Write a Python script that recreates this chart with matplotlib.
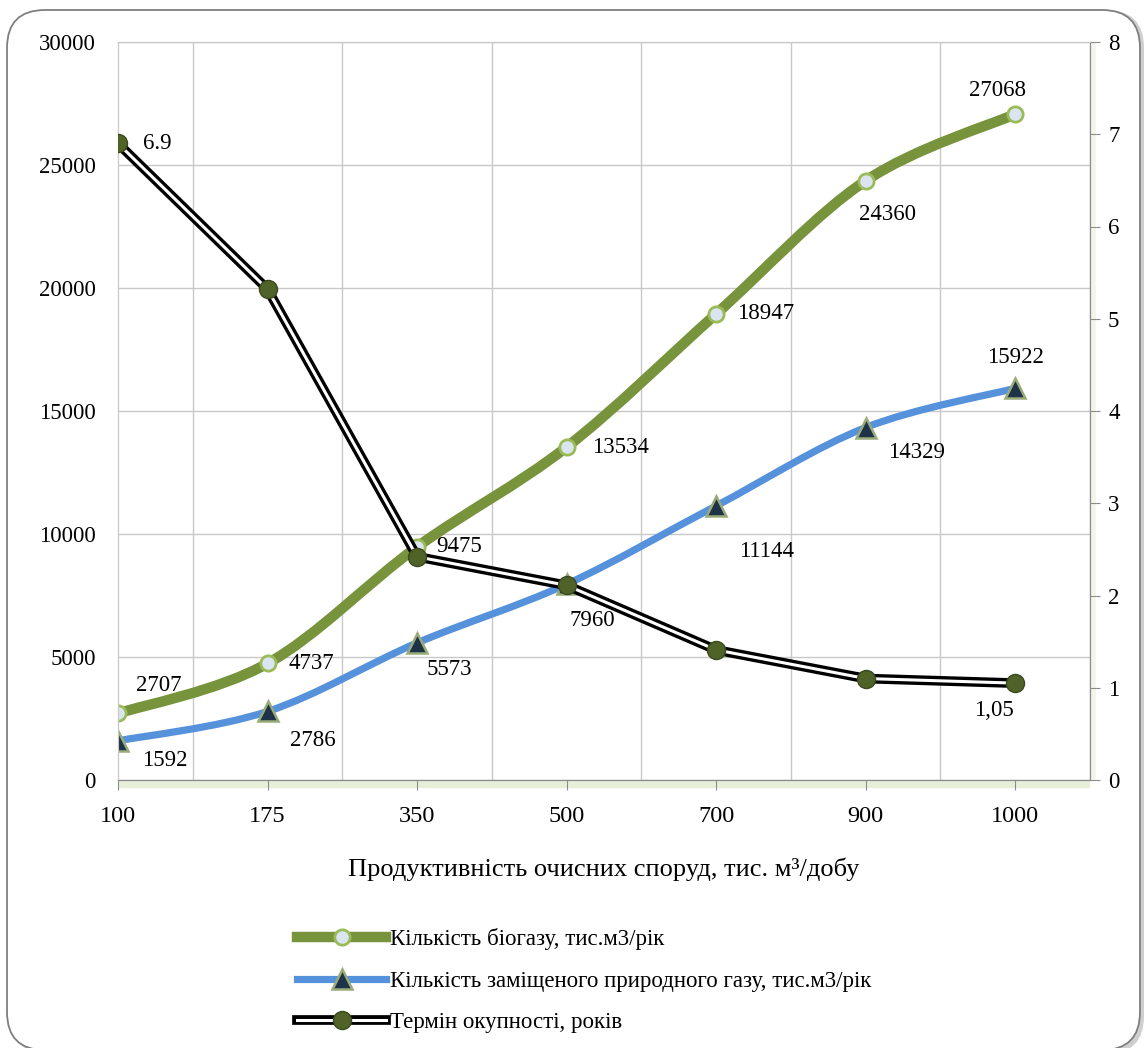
import numpy as np
import matplotlib
matplotlib.use("Agg")
import matplotlib.pyplot as plt
from matplotlib.path import Path
from matplotlib.patches import PathPatch, FancyBboxPatch
from matplotlib.lines import Line2D
from matplotlib.transforms import IdentityTransform

plt.rcParams['font.family'] = ['Liberation Serif', 'DejaVu Serif']

capacity = ['100', '175', '350', '500', '700', '900', '1000']
biogas = [2707, 4737, 9475, 13534, 18947, 24360, 27068]
natural_gas = [1592, 2786, 5573, 7960, 11144, 14329, 15922]
payback = [6.9, 5.32, 2.42, 2.11, 1.41, 1.1, 1.05]

biogas_name = 'Кількість біогазу, тис.м3/рік'
gas_name = 'Кількість заміщеного природного газу, тис.м3/рік'
payback_name = 'Термін окупності, років'
xlabel = 'Продуктивність очисних споруд, тис. м³/добу'

# text labels: (offset in points, ha)
biogas_lbl = [((13, 20), 'left'), ((15, 0), 'left'), ((14, 0), 'left'),
              ((18, 0), 'left'), ((15, 0), 'left'), ((-5, -24), 'left'),
              ((-33, 17), 'left')]
gas_lbl = [((17, -14), 'left'), ((16, -21), 'left'), ((7, -19), 'left'),
           ((2, -26), 'left'), ((36, -33), 'center'), ((16, -18), 'left'),
           ((0, 22), 'center')]
payback_lbl = {0: ((18, 0), 'left'), 6: ((-1, -20), 'right')}

GREEN = '#77933c'
BLUE = '#5592db'
DARK = '#4f6228'
GRID = '#c8c8c8'
FS = 16.5


def smooth_path(xs, ys):
    # Excel-like smoothed line: cubic Bezier segments with 1/6 tangents
    pts = np.column_stack([xs, ys]).astype(float)
    ext = np.vstack([pts[0], pts, pts[-1]])
    verts = [pts[0]]
    codes = [Path.MOVETO]
    for i in range(len(pts) - 1):
        p0, p1, p2, p3 = ext[i], ext[i + 1], ext[i + 2], ext[i + 3]
        verts += [p1 + (p2 - p0) / 6, p2 - (p3 - p1) / 6, p2]
        codes += [Path.CURVE4] * 3
    return Path(verts, codes)


fig = plt.figure(figsize=(11.47, 10.48), dpi=100)

# rounded chart frame with a soft shadow
shadow = FancyBboxPatch((11, -6), 1133, 1044, boxstyle='round,pad=0,rounding_size=38',
                        transform=IdentityTransform(), fc='#cfcfcf', ec='none', zorder=-3)
frame = FancyBboxPatch((7, -2), 1133, 1040, boxstyle='round,pad=0,rounding_size=38',
                       transform=IdentityTransform(), fc='white', ec='#7f7f7f', lw=1.3, zorder=-2)
fig.patches.extend([shadow, frame])

ax = fig.add_axes([118 / 1147, 1 - 780 / 1048, 972 / 1147, 738 / 1048])
ax2 = ax.twinx()
ax.set_zorder(1)
ax2.set_zorder(2)
ax.patch.set_facecolor('white')

x = np.arange(len(capacity))
ax.set_xlim(0, 6.5)
ax.set_ylim(0, 30000)
ax2.set_ylim(0, 8)

ax.set_xticks(x)
ax.set_xticklabels(capacity)
ax.set_xticks(np.arange(0, 6.51, 0.5), minor=True)
ax.set_yticks(np.arange(0, 30001, 5000))
ax.tick_params(axis='y', length=0, labelsize=FS, pad=16)
ax.tick_params(axis='x', which='major', length=7, color='#8c8c8c', labelsize=FS + 1, pad=12)
ax.tick_params(axis='x', which='minor', length=0)
ax.grid(True, which='minor', axis='x', color=GRID, lw=1)
ax.grid(True, which='major', axis='y', color=GRID, lw=1)
ax.set_axisbelow(True)

ax2.set_yticks(np.arange(0, 9))
ax2.tick_params(axis='y', length=7, color='#8c8c8c', labelsize=FS, pad=6)

for a in (ax, ax2):
    a.spines['top'].set_color(GRID)
    a.spines['left'].set_color(GRID)
    a.spines['bottom'].set_color('#8c8c8c')
    a.spines['right'].set_color('#8c8c8c')

# light green glow along the bottom and right axes
ax.plot([0, 1.0], [-0.006, -0.006], transform=ax.transAxes, color='#e8efd9', lw=6,
        clip_on=False, zorder=0, solid_capstyle='butt')
ax.plot([1.003, 1.003], [0, 1.0], transform=ax.transAxes, color='#f2f6ea', lw=4,
        clip_on=False, zorder=0, solid_capstyle='butt')

ax.set_xlabel(xlabel, fontsize=19, labelpad=22)

# biogas and substituted gas series on the left axis
ax.add_patch(PathPatch(smooth_path(x, biogas), fc='none', ec=GREEN, lw=7.5,
                       capstyle='round', zorder=3))
ax.plot(x, biogas, ls='none', marker='o', ms=11, mfc='#dbe5f1', mec='#9bbb59',
        mew=2, zorder=4)
ax.add_patch(PathPatch(smooth_path(x, natural_gas), fc='none', ec=BLUE, lw=5.2,
                       capstyle='round', zorder=3))
ax.plot(x, natural_gas, ls='none', marker='^', ms=14, mfc='#1f3348', mec='#9aab7a',
        mew=1.8, zorder=4)

# payback period on the right axis, drawn as a double line
ax2.plot(x, payback, color='black', lw=7, solid_joinstyle='miter', zorder=3)
ax2.plot(x, payback, color='white', lw=2.2, zorder=4)
ax2.plot(x, payback, ls='none', marker='o', ms=13, mfc=DARK, mec='#3b4a1e', mew=1,
         zorder=5)

for i, v in enumerate(biogas):
    off, ha = biogas_lbl[i]
    ax2.annotate(str(v), (x[i], v * 8 / 30000), xytext=off, textcoords='offset points',
                 ha=ha, va='center', fontsize=FS, zorder=6)
for i, v in enumerate(natural_gas):
    off, ha = gas_lbl[i]
    ax2.annotate(str(v), (x[i], v * 8 / 30000), xytext=off, textcoords='offset points',
                 ha=ha, va='center', fontsize=FS, zorder=6)
for i, (off, ha) in payback_lbl.items():
    txt = '6.9' if i == 0 else f'{payback[i]:.2f}'.replace('.', ',')
    ax2.annotate(txt, (x[i], payback[i]), xytext=off, textcoords='offset points',
                 ha=ha, va='center', fontsize=FS, zorder=6)

handles = [
    Line2D([], [], color=GREEN, lw=7.5, marker='o', ms=11, mfc='#dbe5f1', mec='#9bbb59', mew=2),
    Line2D([], [], color=BLUE, lw=5.2, marker='^', ms=14, mfc='#1f3348', mec='#9aab7a', mew=1.8),
    (Line2D([], [], color='black', lw=7),
     Line2D([], [], color='white', lw=2.2, marker='o', ms=13, mfc=DARK, mec='#3b4a1e', mew=1)),
]
fig.legend(handles, [biogas_name, gas_name, payback_name], loc='upper left',
           bbox_to_anchor=(297 / 1147, 1 - 928 / 1048), frameon=False, fontsize=16.5,
           handlelength=3.9, handletextpad=0.15, labelspacing=0.9, borderpad=0,
           borderaxespad=0)

fig.savefig('out.png', dpi=100)
